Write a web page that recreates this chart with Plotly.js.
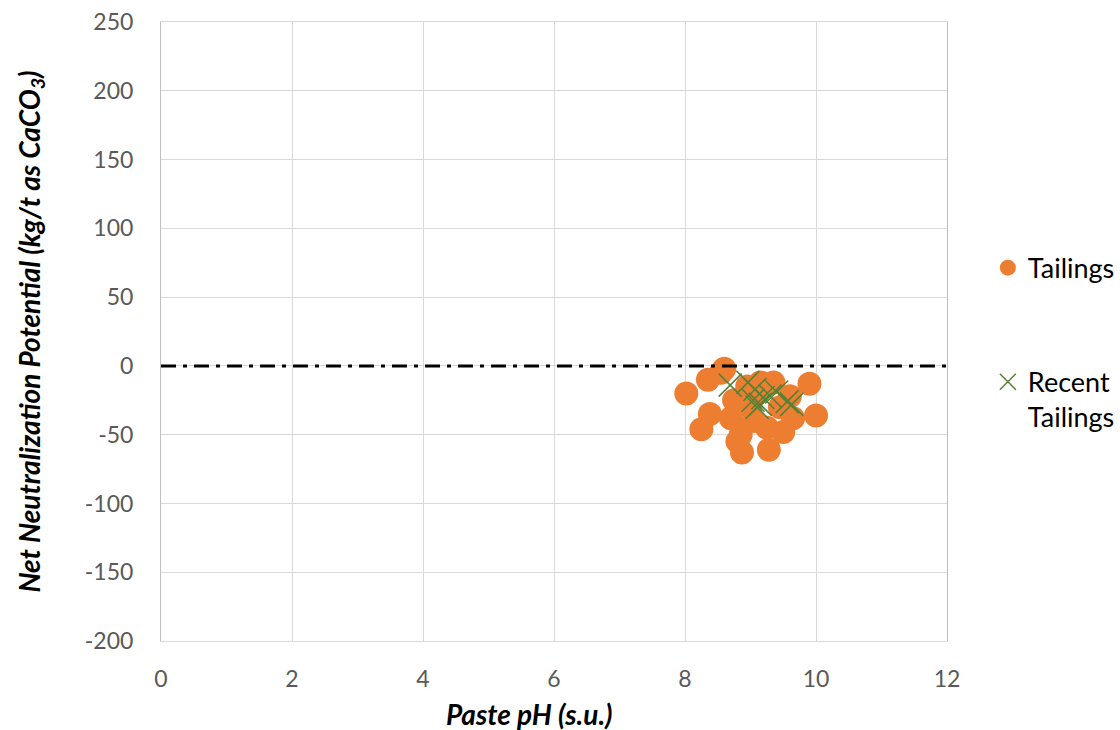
<!DOCTYPE html>
<html>
<head>
<meta charset="utf-8">
<script src="https://cdn.plot.ly/plotly-3.0.1.min.js"></script>
<style>html,body{margin:0;padding:0;background:#fff;}#chart{width:1120px;height:730px;}</style>
</head>
<body>
<div id="chart"></div>
<script>
// Tailings (Paste pH, NNP)
const tailingsPH  = [8.02, 8.25, 8.35, 8.38, 8.55, 8.60, 8.70, 8.80, 8.87, 8.85, 8.95, 9.00, 9.10, 9.15, 9.25, 9.28, 9.35, 9.45, 9.50, 9.60, 9.65, 9.90, 10.00, 8.75, 9.05];
const tailingsNNP = [-20, -46, -10, -35, -5, -2, -38, -55, -63, -50, -15, -30, -20, -12, -45, -61, -12, -30, -48, -22, -38, -13, -36, -25, -40];
// Recent Tailings
const recentPH  = [8.69, 8.96, 9.07, 9.04, 9.15, 9.10, 9.19, 9.30, 9.40, 9.56, 9.63];
const recentNNP = [-14, -12, -17, -25, -28, -30, -23, -22, -19, -26, -28];
// Reference line at NNP = 0
const refX = [0, 12];
const refY = [0, 0];
// Tick labels
const xTickVals = [0, 2, 4, 6, 8, 10, 12];
const xTickText = ['0', '2', '4', '6', '8', '10', '12'];
const yTickVals = [-200, -150, -100, -50, 0, 50, 100, 150, 200, 250];
const yTickText = ['-200', '-150', '-100', '-50', '0', '50', '100', '150', '200', '250'];

const FONT = 'Lato, Open Sans, sans-serif';

const traces = [
  {x: tailingsPH, y: tailingsNNP, name: 'Tailings', type: 'scatter', mode: 'markers',
   legendgroup: 'a',
   marker: {symbol: 'circle', size: 24, color: '#ED7D31', line: {width: 0}}},
  {x: recentPH, y: recentNNP, name: 'Recent<br>Tailings', type: 'scatter', mode: 'markers',
   legendgroup: 'b',
   marker: {symbol: 'x-thin-open', size: 23, color: '#548235', line: {width: 1.5, color: '#548235'}}},
  {x: refX, y: refY, type: 'scatter', mode: 'lines', showlegend: false, hoverinfo: 'skip',
   line: {color: '#000000', width: 3, dash: '15px,7px,4px,7px'}}
];

const tickFont = {family: FONT, size: 23, color: '#595959'};
const titleFont = {family: FONT, size: 28, color: '#000000', weight: 'bold', style: 'italic'};

const layout = {
  width: 1120, height: 730,
  margin: {l: 161, r: 173, t: 22, b: 89, autoexpand: false},
  paper_bgcolor: '#ffffff', plot_bgcolor: '#ffffff',
  showlegend: true,
  legend: {x: 1.052, xanchor: 'left', y: 0.642, yanchor: 'top', tracegroupgap: 76, valign: 'top',
           font: {family: FONT, size: 27, color: '#000000'},
           itemwidth: 30},
  xaxis: {range: [0, 12], tickvals: xTickVals, ticktext: xTickText, showgrid: true, gridcolor: '#d9d9d9', gridwidth: 1,
          zeroline: false, showline: true, linecolor: '#d9d9d9', mirror: true,
          tickfont: tickFont, ticks: '', ticklabelstandoff: 17},
  yaxis: {range: [-200, 250], tickvals: yTickVals, ticktext: yTickText, showgrid: true, gridcolor: '#d9d9d9', gridwidth: 1,
          zeroline: false, showline: true, linecolor: '#bfbfbf', mirror: true,
          tickfont: tickFont, ticks: '', ticklabelstandoff: 22,
          title: {text: 'Net Neutralization Potential (kg/t as CaCO<sub>3</sub>)', font: titleFont, standoff: 36}},
  annotations: [
    {text: 'Paste pH (s.u.)', xref: 'paper', yref: 'paper', x: 0.469, y: -0.118,
     xanchor: 'center', yanchor: 'middle', showarrow: false, font: titleFont}
  ]
};

Plotly.newPlot('chart', traces, layout, {displayModeBar: false, staticPlot: true});
</script>
</body>
</html>
